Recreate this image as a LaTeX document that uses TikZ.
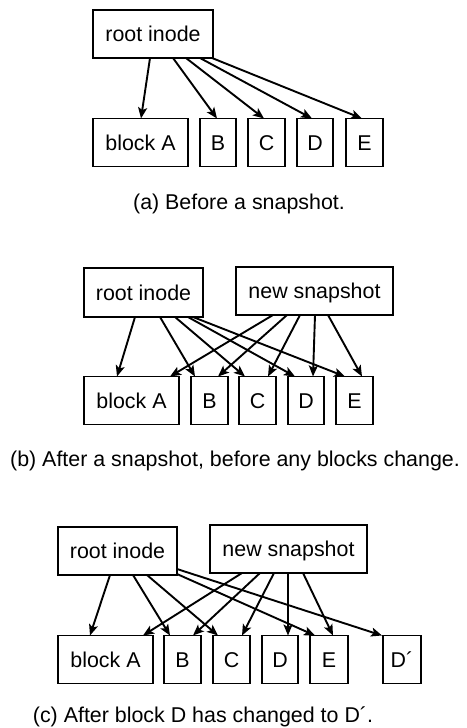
\documentclass[tikz,border=0pt]{standalone}
\usepackage{fontspec}
\setmainfont{Liberation Sans}
\usetikzlibrary{arrows.meta}
\begin{document}
\begin{tikzpicture}[x=1pt,y=-1pt,
  lbl/.style={font=\fontsize{21.4}{25}\selectfont},
  box/.style={lbl, draw, line width=1.3pt, inner sep=0pt, outer sep=0pt,
    text height=15.3pt, text depth=0pt},
  blk/.style={box, minimum height=48pt},
  ptr/.style={line width=1.9pt, -{Stealth[length=11pt,width=9pt,inset=2.5pt]}},
  captxt/.style={lbl, anchor=base, inner sep=0pt}]
\path[use as bounding box] (0,0) rectangle (466,728);

% ---------- (a) before a snapshot ----------
\node[box, minimum width=120pt, minimum height=48pt] (ra) at (153,34) {root inode};
\node[blk, minimum width=95pt] (aA) at (140.5,142.5) {block A};
\node[blk, minimum width=36pt] (aB) at (218,142.5) {B};
\node[blk, minimum width=37pt] (aC) at (266.5,142.5) {C};
\node[blk, minimum width=36pt] (aD) at (315,142.5) {D};
\node[blk, minimum width=37pt] (aE) at (364.5,142.5) {E};
\draw[ptr] ([xshift=57pt]ra.south west)  -- ([xshift=48pt]aA.north west);
\draw[ptr] ([xshift=80pt]ra.south west)  -- ([xshift=17pt]aB.north west);
\draw[ptr] ([xshift=93pt]ra.south west)  -- ([xshift=16pt]aC.north west);
\draw[ptr] ([xshift=107pt]ra.south west) -- ([xshift=15pt]aD.north west);
\draw[ptr] ([xshift=119pt]ra.south west) -- ([xshift=16pt]aE.north west);
\node[captxt] (capa) at (239,209) {(a) Before a snapshot.};

% ---------- (b) after a snapshot ----------
\node[box, minimum width=119pt, minimum height=49pt] (rb) at (143.5,292.5) {root inode};
\node[box, minimum width=157pt, minimum height=48pt] (sb) at (314.5,291) {new snapshot};
\node[blk, minimum width=95pt] (bA) at (131.5,400.5) {block A};
\node[blk, minimum width=37pt] (bB) at (209.5,400.5) {B};
\node[blk, minimum width=37pt] (bC) at (257.5,400.5) {C};
\node[blk, minimum width=36pt] (bD) at (306,400.5) {D};
\node[blk, minimum width=37pt] (bE) at (354.5,400.5) {E};
\draw[ptr] ([xshift=51pt]rb.south west)  -- ([xshift=33pt]bA.north west);
\draw[ptr] ([xshift=76pt]rb.south west)  -- ([xshift=4pt]bB.north west);
\draw[ptr] ([xshift=91pt]rb.south west)  -- ([xshift=6pt]bC.north west);
\draw[ptr] ([xshift=104pt]rb.south west) -- ([xshift=7pt]bD.north west);
\draw[ptr] ([xshift=109pt]rb.south west) -- ([xshift=9pt]bE.north west);
\draw[ptr] ([xshift=37pt]sb.south west)  -- ([xshift=86pt]bA.north west);
\draw[ptr] ([xshift=51pt]sb.south west)  -- ([xshift=27pt]bB.north west);
\draw[ptr] ([xshift=64pt]sb.south west)  -- ([xshift=29pt]bC.north west);
\draw[ptr] ([xshift=79pt]sb.south west)  -- ([xshift=25pt]bD.north west);
\draw[ptr] ([xshift=92pt]sb.south west)  -- ([xshift=26pt]bE.north west);
\node[captxt] (capb) at (235,466) {(b) After a snapshot, before any blocks change.};

% ---------- (c) after block D has changed ----------
\node[box, minimum width=119pt, minimum height=48pt] (rc) at (117.5,551) {root inode};
\node[box, minimum width=157pt, minimum height=48pt] (sc) at (288.5,549) {new snapshot};
\node[blk, minimum width=95pt] (cA) at (105.5,659.5) {block A};
\node[blk, minimum width=37pt] (cB) at (182.5,659.5) {B};
\node[blk, minimum width=37pt] (cC) at (231.5,659.5) {C};
\node[blk, minimum width=36pt] (cD) at (280,659.5) {D};
\node[blk, minimum width=38pt] (cE) at (329,659.5) {E};
\node[blk, minimum width=38pt] (cDp) at (402,659.5) {D´};
\draw[ptr] ([xshift=52pt]rc.south west) -- ([xshift=32pt]cA.north west);
\draw[ptr] ([xshift=75pt]rc.south west) -- ([xshift=6pt]cB.north west);
\draw[ptr] ([xshift=89pt]rc.south west) -- ([xshift=5pt]cC.north west);
\draw[ptr] ([yshift=6pt]rc.south east)  -- ([xshift=-1pt]cDp.north west);
\draw[ptr] ([yshift=1pt]rc.south east)  -- ([xshift=5pt]cE.north west);
\draw[ptr] ([xshift=32pt]sc.south west) -- ([xshift=85pt]cA.north west);
\draw[ptr] ([xshift=50pt]sc.south west) -- ([xshift=29pt]cB.north west);
\draw[ptr] ([xshift=64pt]sc.south west) -- ([xshift=29pt]cC.north west);
\draw[ptr] ([xshift=78pt]sc.south west) -- ([xshift=26pt]cD.north west);
\draw[ptr] ([xshift=93pt]sc.south west) -- ([xshift=23pt]cE.north west);
\node[captxt] (capc) at (203,722.5) {(c) After block D has changed to D´.};
\end{tikzpicture}
\end{document}
